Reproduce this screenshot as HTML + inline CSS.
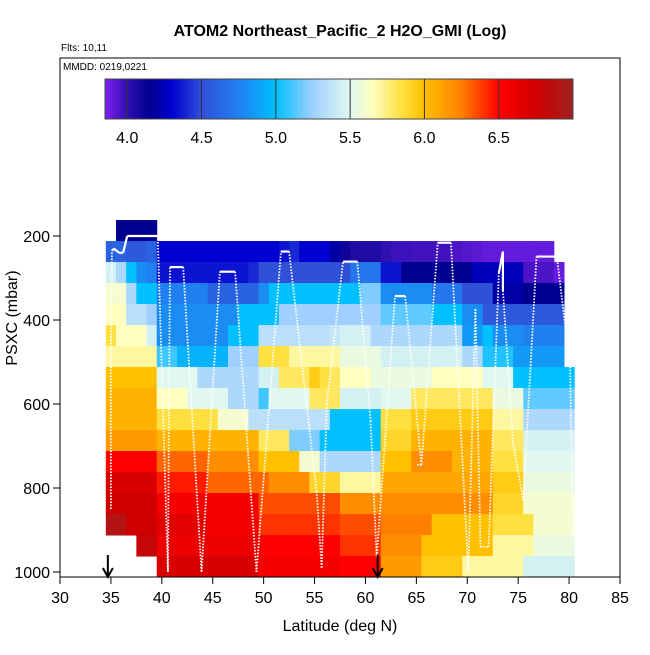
<!DOCTYPE html>
<html><head><meta charset="utf-8"><style>
body{margin:0;background:#fff;}
svg{font-family:"Liberation Sans",sans-serif;}
</style></head><body>
<svg id="c" width="650" height="650" viewBox="0 0 650 650">
<text x="340" y="36" text-anchor="middle" font-size="16" font-weight="bold">ATOM2 Northeast_Pacific_2 H2O_GMI (Log)</text>
<text x="61" y="51" font-size="10">Flts: 10,11</text>
<g id="heat"></g>
<g id="track"></g>
<g id="cbar"></g>
<rect x="60" y="58" width="560" height="519" fill="none" stroke="#000" stroke-width="1"/>
<text x="63" y="70" font-size="10">MMDD: 0219,0221</text>
<g id="axes"></g>
<text x="340" y="631" text-anchor="middle" font-size="16">Latitude (deg N)</text>
<text transform="translate(17,318) rotate(-90)" text-anchor="middle" font-size="16">PSXC (mbar)</text>
</svg>
<script>
const latStart = 35;
const xTicks = [30,35,40,45,50,55,60,65,70,75,80,85];
const yTicks = [200,400,600,800,1000];
const cbTicks = [4.0,4.5,5.0,5.5,6.0,6.5];
const rowP = [187,237,287,337,387,437,487,537,587,637,687,737,787,837,887,937,987];
const N=null;
const row0=[N,4.15,4.15,4.15,4.15,N,N,N,N,N,N,N,N,N,N,N,N,N,N,N,N,N,N,N,N,N,N,N,N,N,N,N,N,N,N,N,N,N,N,N,N,N,N,N,N,N];
const row1=[4.6,4.6,4.55,4.55,4.6,4.3,4.3,4.3,4.3,4.3,4.3,4.3,4.3,4.3,4.3,4.3,4.3,4.35,4.4,4.3,4.3,4.3,4.2,4.1,4.05,4.05,4.05,4.0,3.98,3.98,3.97,3.97,3.97,3.97,3.95,3.93,3.92,3.9,3.9,3.9,3.9,3.9,3.9,3.9,N,N];
const row2=[5.45,5.3,5.0,4.8,4.75,4.35,4.35,4.35,4.35,4.35,4.35,4.35,4.35,4.35,4.4,4.5,4.5,4.5,4.5,4.5,4.5,4.5,4.5,4.5,4.7,4.7,4.7,4.35,4.35,4.15,4.15,4.15,4.15,4.15,4.15,4.15,4.25,4.25,4.25,4.25,4.25,3.95,3.95,3.95,3.9,N];
const row3=[5.6,5.6,5.3,5.0,5.0,4.75,4.75,4.75,4.75,4.75,4.6,4.6,4.6,4.6,4.6,4.8,5.0,5.0,5.0,5.0,5.0,5.0,5.0,5.0,5.0,5.2,5.2,4.8,4.8,4.8,4.8,4.8,4.7,4.7,4.7,4.5,4.5,4.5,4.2,4.2,4.2,4.15,4.15,4.15,4.15,N];
const row4=[5.65,5.65,5.35,5.35,5.25,4.8,4.8,4.8,4.8,4.8,4.8,4.8,4.8,5.0,5.0,5.0,5.0,5.25,5.25,5.25,5.25,5.25,5.25,5.25,5.25,5.25,5.25,5.15,5.15,5.15,5.15,5.15,5.0,5.0,5.0,4.8,4.8,4.55,4.55,4.55,4.55,4.55,4.55,4.55,4.55,N];
const row5=[5.85,5.65,5.65,5.65,5.45,4.8,4.8,4.8,4.8,4.8,4.8,4.8,5.0,5.0,5.0,5.35,5.35,5.35,5.35,5.35,5.35,5.35,5.4,5.45,5.45,5.45,5.3,5.3,5.3,5.3,5.3,5.3,5.3,5.3,5.3,4.85,4.85,5.0,4.8,4.8,4.8,4.75,4.75,4.75,4.75,N];
const row6=[5.7,5.7,5.7,5.7,5.7,5.1,5.1,4.95,4.95,4.95,4.95,4.95,5.25,5.25,5.25,5.85,5.85,5.85,5.7,5.7,5.7,5.7,5.7,5.55,5.55,5.55,5.55,5.45,5.45,5.45,5.45,5.45,5.45,5.45,5.45,5.3,5.3,5.05,5.05,5.05,4.85,4.85,4.85,4.85,4.85,N];
const row7=[6.0,6.0,6.0,6.0,6.0,5.5,5.5,5.5,5.5,5.3,5.3,5.3,5.3,5.3,5.3,5.45,5.45,5.8,5.8,5.8,5.95,5.85,5.8,5.65,5.65,5.65,5.55,5.55,5.55,5.55,5.55,5.55,5.65,5.65,5.65,5.65,5.65,5.5,5.5,5.5,5.0,5.0,5.0,5.0,5.0,5.0];
const row8=[6.05,6.05,6.05,6.05,6.05,5.65,5.65,5.65,5.5,5.5,5.5,5.5,5.3,5.3,5.3,5.1,5.5,5.5,5.5,5.5,5.8,5.8,5.8,5.45,5.45,5.45,5.45,5.5,5.5,5.5,5.8,5.8,5.8,5.8,5.8,5.8,5.8,5.8,5.55,5.55,5.55,5.15,5.15,5.15,5.15,5.15];
const row9=[6.05,6.05,6.05,6.05,6.05,5.85,5.85,5.85,5.85,5.85,5.85,5.6,5.6,5.6,5.35,5.35,5.35,5.35,5.35,5.35,5.35,5.35,5.0,5.0,5.0,5.0,5.0,5.85,5.85,5.85,5.95,5.95,5.95,5.95,5.95,5.95,5.95,5.95,5.7,5.7,5.7,5.3,5.3,5.3,5.3,5.3];
const row10=[6.15,6.15,6.15,6.15,6.15,6.05,6.05,6.05,6.05,6.05,6.05,6.05,6.05,6.05,6.05,5.8,5.8,5.8,5.2,5.2,5.2,5.0,5.0,5.0,5.0,5.0,5.0,5.9,5.9,5.9,6.05,6.05,6.05,6.05,6.05,6.05,6.05,6.05,5.8,5.8,5.8,5.45,5.45,5.45,5.45,5.45];
const row11=[6.5,6.5,6.5,6.5,6.5,6.3,6.3,6.3,6.3,6.3,6.2,6.2,6.2,6.2,6.2,6.0,6.0,6.0,6.0,5.6,5.6,5.3,5.3,5.3,5.3,5.3,5.3,6.0,6.0,6.0,6.2,6.2,6.2,6.2,6.05,6.05,6.05,6.05,5.85,5.85,5.85,5.5,5.5,5.5,5.5,5.5];
const row12=[6.7,6.7,6.7,6.7,6.7,6.45,6.45,6.45,6.45,6.45,6.3,6.3,6.3,6.3,6.3,6.3,6.2,6.2,6.2,6.2,5.9,5.9,5.9,5.7,5.7,5.7,5.7,6.1,6.1,6.1,6.1,6.1,6.1,6.1,6.1,6.1,6.1,6.1,5.95,5.95,5.95,5.55,5.55,5.55,5.55,5.55];
const row13=[6.75,6.75,6.75,6.75,6.75,6.55,6.55,6.55,6.55,6.55,6.55,6.55,6.55,6.55,6.55,6.35,6.35,6.35,6.35,6.35,6.35,6.35,6.35,6.2,6.2,6.2,6.2,6.2,6.2,6.2,6.2,6.2,6.2,6.2,6.2,6.2,6.2,6.2,5.9,5.9,5.9,5.6,5.6,5.6,5.6,5.6];
const row14=[6.9,6.9,6.75,6.75,6.75,6.65,6.65,6.65,6.65,6.65,6.55,6.55,6.55,6.55,6.55,6.4,6.4,6.4,6.4,6.4,6.4,6.4,6.4,6.35,6.35,6.35,6.35,6.25,6.25,6.25,6.25,6.25,6.0,6.0,6.0,6.0,6.0,6.0,5.85,5.85,5.85,5.85,5.6,5.6,5.6,5.6];
const row15=[N,N,N,6.8,6.8,6.6,6.6,6.6,6.6,6.6,6.6,6.6,6.6,6.6,6.6,6.5,6.5,6.5,6.5,6.5,6.5,6.5,6.5,6.4,6.4,6.4,6.4,6.2,6.2,6.2,6.2,6.0,6.0,6.0,6.0,6.0,6.0,6.0,5.7,5.7,5.7,5.7,5.55,5.55,5.55,5.55];
const row16=[N,N,N,N,N,6.7,6.7,6.7,6.7,6.7,6.7,6.7,6.7,6.7,6.7,6.55,6.55,6.55,6.55,6.55,6.55,6.55,6.55,6.5,6.5,6.5,6.5,6.15,6.15,6.15,6.15,5.95,5.95,5.95,5.95,5.7,5.7,5.7,5.7,5.7,5.7,5.45,5.45,5.45,5.45,5.45];
const rows=[row0,row1,row2,row3,row4,row5,row6,row7,row8,row9,row10,row11,row12,row13,row14,row15,row16];
const trackLat=[35.0,35.0,35.1,35.3,35.8,36.2,36.6,39.6,40.6,40.8,42.1,43.9,45.7,47.2,49.3,51.7,52.5,55.2,55.7,56.2,57.8,59.2,60.5,61.1,61.6,62.9,63.9,65.5,65.1,65.5,67.1,68.4,70.1,70.8,71.3,72.1,73.1,73.1,73.5,73.5,74.5,75.5,76.8,78.8,80.1,80.4];
const trackP=[850,500,235,230,240,240,200,200,1000,274,274,1000,285,285,1000,237,237,808,990,600,261,261,640,963,800,343,343,745,745,745,216,216,1000,374,940,940,288,288,237,330,693,830,249,249,511,920];

const xS=l=>60+(l-30)*560/55;
const yS=p=>236+(p-200)*0.42;
const cmin=3.85,cmax=7.0;
const stops=[[3.85,[128,32,240]],[4.0,[48,16,176]],[4.15,[0,0,144]],[4.3,[0,0,208]],[4.5,[48,80,216]],[4.75,[32,128,240]],[5.0,[0,192,255]],[5.25,[160,208,255]],[5.5,[224,248,240]],[5.65,[255,255,192]],[5.85,[255,224,64]],[6.0,[255,192,0]],[6.25,[255,128,0]],[6.5,[255,0,0]],[6.75,[208,0,0]],[7.0,[160,32,32]]];
function col(v){
  if(v<=stops[0][0])return 'rgb('+stops[0][1]+')';
  for(let i=1;i<stops.length;i++){if(v<=stops[i][0]){const a=stops[i-1],b=stops[i],t=(v-a[0])/(b[0]-a[0]);
    return 'rgb('+a[1].map((c,k)=>Math.round(c+(b[1][k]-c)*t)).join(',')+')';}}
  return 'rgb('+stops[stops.length-1][1]+')';
}
const NS='http://www.w3.org/2000/svg';
function mk(t,a,p){const e=document.createElementNS(NS,t);for(const k in a)e.setAttribute(k,a[k]);p.appendChild(e);return e;}
const heat=document.getElementById('heat');
rows.forEach((r,ri)=>{r.forEach((v,ci)=>{if(v===null)return;
  const l=latStart+ci;const x0=xS(l-0.5),x1=xS(l+0.5);const y0=yS(rowP[ri]-25),y1=yS(rowP[ri]+25);
  const e=mk('rect',{x:x0,y:y0,width:x1-x0+0.5,height:y1-y0+0.5,fill:col(v)},heat);
  
  
});});
// colorbar
const cb=document.getElementById('cbar');
const cbx=v=>105+(v-cmin)*(573-105)/(cmax-cmin);
for(let v=cmin;v<cmax-1e-6;v+=0.025){const e=mk('rect',{x:cbx(v),y:79,width:cbx(v+0.025)-cbx(v)+0.4,height:40,fill:col(v+0.0125)},cb);
  
  }
mk('rect',{x:105,y:79,width:468,height:40,fill:'none',stroke:'#444','stroke-width':1},cb);
cbTicks.forEach(t=>{mk('line',{x1:cbx(t),x2:cbx(t),y1:79,y2:119,stroke:'#333','stroke-width':1},cb);
  const e=mk('text',{x:cbx(t),y:143,'text-anchor':'middle','font-size':16},cb);e.textContent=t.toFixed(1);
  
  });
// track
const tr=document.getElementById('track');
for(let i=0;i<trackLat.length-1;i++){
  const solid=trackP[i]<420&&trackP[i+1]<420;
  const a={x1:xS(trackLat[i]),y1:yS(trackP[i]),x2:xS(trackLat[i+1]),y2:yS(trackP[i+1]),stroke:'#fff','stroke-width':solid?2.2:1.8};
  if(!solid)a['stroke-dasharray']='1.5,1.5';
  const e=mk('line',a,tr);
  
  
}
// axes
const ax=document.getElementById('axes');
mk('line',{x1:xS(30),x2:xS(85),y1:577,y2:577,stroke:'#000'},ax);
xTicks.forEach(t=>{mk('line',{x1:xS(t),x2:xS(t),y1:577,y2:584,stroke:'#000'},ax);
  const e=mk('text',{x:xS(t),y:603,'text-anchor':'middle','font-size':16},ax);e.textContent=t;
  
  });
yTicks.forEach(t=>{mk('line',{x1:53,x2:60,y1:yS(t),y2:yS(t),stroke:'#000'},ax);
  const e=mk('text',{x:50,y:yS(t)+6,'text-anchor':'end','font-size':16},ax);e.textContent=t;
  
  });
// arrows
[34.7,61.2].forEach(l=>{const x=xS(l);
  mk('line',{x1:x,x2:x,y1:555,y2:575,stroke:'#000','stroke-width':2},ax);
  const e=mk('path',{d:`M${x-5},${568} L${x},${577} L${x+5},${568}`,fill:'none',stroke:'#000','stroke-width':2},ax);
  
  });
</script>
</body></html>
